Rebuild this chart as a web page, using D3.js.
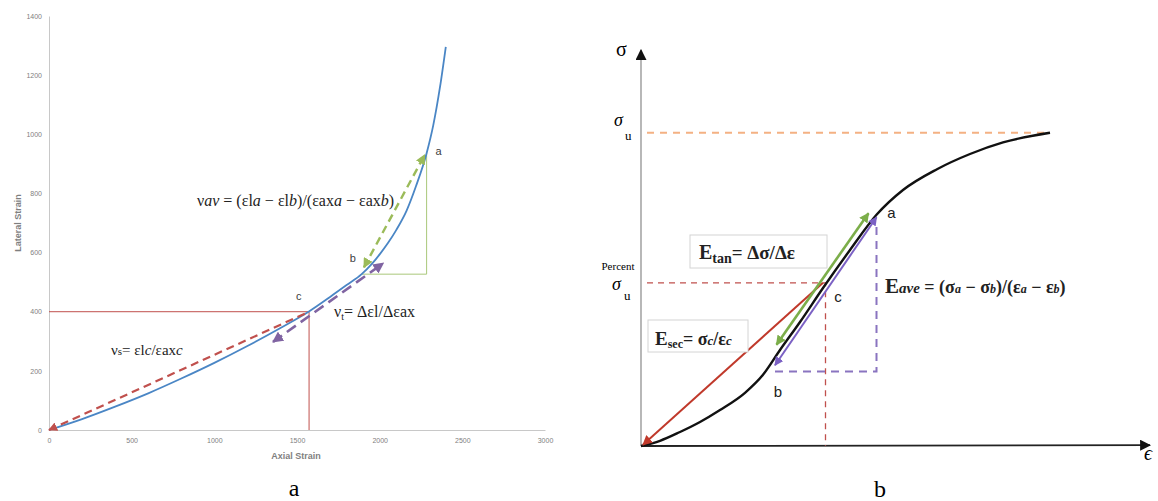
<!DOCTYPE html>
<html>
<head>
<meta charset="utf-8">
<script src="https://cdn.jsdelivr.net/npm/d3@7"></script>
<style>
  body { margin: 0; background: #fff; }
  text { font-family: "Liberation Sans", Arial, sans-serif; }
  .serif { font-family: "Liberation Serif", "Times New Roman", serif; }
</style>
</head>
<body>
<script>
// ---- panel a : lateral vs axial strain ----
var axialStrain   = [0, 200, 400, 600, 800, 1000, 1200, 1400, 1570, 1700, 1800, 1891, 1950, 2000, 2050, 2100, 2163, 2220, 2284, 2324, 2365, 2400];
var lateralStrain = [0, 37, 79, 124, 174, 227, 284, 345, 400, 450, 490, 527, 560, 594, 632, 676, 742, 825, 936, 1030, 1160, 1296];
var xTicksA = [0, 500, 1000, 1500, 2000, 2500, 3000];
var yTicksA = [0, 200, 400, 600, 800, 1000, 1200, 1400];
var pointA = [2284, 936], pointB = [1891, 527], pointC = [1573, 400];
var greenChord = [[1905, 550], [2272, 930]];    // dashed chord b -> a
var purpleTangent = [[1355, 298], [2022, 564]]; // dashed tangent near c

// ---- panel b : schematic stress-strain ----
var epsCurve = [0, 3.8, 7.8, 11.8, 15.8, 20.8, 24.4, 27.8, 31.8, 36.4, 41.8, 47.1, 52.4, 59.2, 65.8, 72.4, 81.8];
var sigCurve = [0, 1.3, 3.5, 6, 9, 13.3, 17.8, 24, 31, 39.5, 49, 57.8, 64, 69.2, 73, 75.9, 78.3];
var sigmaU = 78.3;
var ptA = [47.1, 58.2], ptB = [24.4, 17.8], ptC = [36.4, 40.8];
var tanLine = [[27.1, 25.3], [45.5, 58.2]];
var aveLine = [[26.8, 20.2], [47.1, 58.2]];
var aveBase = 18.6;

var svg = d3.select("body").append("svg").attr("width", 1158).attr("height", 501);

// arrow markers
var defs = svg.append("defs");
function marker(id, color, size) {
  defs.append("marker").attr("id", id)
    .attr("viewBox", "0 0 10 10").attr("refX", 9).attr("refY", 5)
    .attr("markerWidth", size).attr("markerHeight", size)
    .attr("markerUnits", "userSpaceOnUse")
    .attr("orient", "auto-start-reverse")
    .append("path").attr("d", "M0,0L10,5L0,10z").attr("fill", color);
}
marker("arRed", "#c0504d", 9);
marker("arGreen", "#9bbb59", 10);
marker("arPurple", "#8064a2", 11);
marker("arRedB", "#c0392b", 10);
marker("arGreenB", "#7cae4a", 10);
marker("arPurpleB", "#7b61c4", 9);
marker("arBlack", "#111", 11);

// ================= panel a =================
var x = d3.scaleLinear().domain([0, 3000]).range([49, 545]);
var y = d3.scaleLinear().domain([0, 1400]).range([430, 16]);

var gA = svg.append("g");
var xAxis = gA.append("g").attr("transform", "translate(0,430)")
  .call(d3.axisBottom(x).tickValues(xTicksA).tickFormat(d3.format("d")).tickSize(0).tickSizeOuter(0).tickPadding(8));
var yAxis = gA.append("g").attr("transform", "translate(49,0)")
  .call(d3.axisLeft(y).tickValues(yTicksA).tickFormat(d3.format("d")).tickSize(0).tickSizeOuter(0).tickPadding(7));
[xAxis, yAxis].forEach(function (ax) {
  ax.select(".domain").attr("stroke", "#c8c8c8");
  ax.selectAll("text").attr("fill", "#808080").style("font-size", "7px")
    .style("font-family", "Liberation Sans, sans-serif");
});
gA.append("text").attr("x", 296).attr("y", 459).attr("text-anchor", "middle")
  .style("font-size", "9px").style("font-weight", "bold").attr("fill", "#7f7f7f").text("Axial Strain");
gA.append("text").attr("transform", "translate(21,223) rotate(-90)").attr("text-anchor", "middle")
  .style("font-size", "9px").style("font-weight", "bold").attr("fill", "#7f7f7f").text("Lateral Strain");

// red guide lines at c
gA.append("path").attr("fill", "none").attr("stroke", "#c0504d").attr("stroke-width", 1)
  .attr("d", d3.line()([[x(0), y(pointC[1])], [x(pointC[0]), y(pointC[1])], [x(pointC[0]), y(0)]]));
// green guide lines b -> a
gA.append("path").attr("fill", "none").attr("stroke", "#a9c77a").attr("stroke-width", 1)
  .attr("d", d3.line()([[x(pointB[0]), y(pointB[1])], [x(pointA[0]), y(pointB[1])], [x(pointA[0]), y(pointA[1])]]));

// curve
var lineA = d3.line().x(function (d, i) { return x(axialStrain[i]); })
  .y(function (d) { return y(d); }).curve(d3.curveMonotoneX);
gA.append("path").datum(lateralStrain).attr("fill", "none")
  .attr("stroke", "#4a86c5").attr("stroke-width", 1.8).attr("d", lineA);

// secant (red dashed)
gA.append("path").attr("fill", "none").attr("stroke", "#c0504d").attr("stroke-width", 2.2)
  .attr("stroke-dasharray", "8,5").attr("marker-start", "url(#arRed)")
  .attr("d", d3.line()([[x(0), y(0)], [x(pointC[0]), y(pointC[1])]]));
// green dashed chord
gA.append("path").attr("fill", "none").attr("stroke", "#9bbb59").attr("stroke-width", 2.4)
  .attr("stroke-dasharray", "8,5").attr("marker-start", "url(#arGreen)").attr("marker-end", "url(#arGreen)")
  .attr("d", d3.line()(greenChord.map(function (p) { return [x(p[0]), y(p[1])]; })));
// purple dashed tangent
gA.append("path").attr("fill", "none").attr("stroke", "#8064a2").attr("stroke-width", 2.6)
  .attr("stroke-dasharray", "11,6").attr("marker-start", "url(#arPurple)").attr("marker-end", "url(#arPurple)")
  .attr("d", d3.line()(purpleTangent.map(function (p) { return [x(p[0]), y(p[1])]; })));

// point labels
[["a", pointA, 9, -2], ["b", pointB, -12, -16], ["c", pointC, -13, -16]].forEach(function (l) {
  gA.append("text").attr("x", x(l[1][0]) + l[2]).attr("y", y(l[1][1]) + l[3] + 4)
    .style("font-size", "11px").attr("fill", "#404040").text(l[0]);
});

// formulas
function formula(g, xx, yy, size, parts, weight) {
  var t = g.append("text").attr("class", "serif").attr("x", xx).attr("y", yy)
    .style("font-size", size + "px").attr("fill", "#222");
  if (weight) t.style("font-weight", weight);
  parts.forEach(function (p) {
    var s = t.append("tspan").text(p[0]);
    if (p[1]) s.style("font-style", "italic");
    if (p[2]) s.style("font-size", p[2] + "px");
    if (p[3]) s.attr("dy", p[3]);
  });
  return t;
}
formula(gA, 197, 206, 16, [["ν"], ["av", 1], [" = (εl"], ["a", 1], [" − εl"], ["b", 1], [")/(εax"], ["a", 1], [" − εax"], ["b", 1], [")"]]);
formula(gA, 334, 317, 16, [["ν"], ["t", 0, 10, 3], ["= Δεl/Δεax", 0, 0, -3]]);
formula(gA, 111, 355, 15, [["ν"], ["s", 0, 11], ["= εl"], ["c", 1], ["/εax"], ["c", 1]]);

// caption
svg.append("text").attr("class", "serif").attr("x", 294).attr("y", 496).attr("text-anchor", "middle")
  .style("font-size", "24px").text("a");

// ================= panel b =================
var xb = d3.scaleLinear().domain([0, 100]).range([641, 1141]);
var yb = d3.scaleLinear().domain([0, 100]).range([446, 46]);
var gB = svg.append("g");
function P(p) { return [xb(p[0]), yb(p[1])]; }

// axes
gB.append("path").attr("stroke", "#888").attr("stroke-width", 1.2).attr("fill", "none")
  .attr("marker-end", "url(#arBlack)").attr("d", d3.line()([P([0, 0]), P([0, 99])]));
gB.append("path").attr("stroke", "#222").attr("stroke-width", 1.8).attr("fill", "none")
  .attr("marker-end", "url(#arBlack)").attr("d", d3.line()([P([0, 0]), P([101.8, 0.2])]));

// sigma_u dashed
gB.append("path").attr("stroke", "#f4b183").attr("stroke-width", 2).attr("stroke-dasharray", "7,6")
  .attr("fill", "none").attr("d", d3.line()([P([1.2, sigmaU]), P([epsCurve[epsCurve.length - 1], sigmaU])]));
// percent sigma_u dashed
gB.append("path").attr("stroke", "#c0504d").attr("stroke-width", 1.3).attr("stroke-dasharray", "6,5")
  .attr("fill", "none").attr("d", d3.line()([P([1.2, ptC[1]]), P([ptC[0] + 0.5, ptC[1]]), P([ptC[0] + 0.5, 0])]));
// average modulus dashed box
gB.append("path").attr("stroke", "#8a74c0").attr("stroke-width", 2).attr("stroke-dasharray", "8,6")
  .attr("fill", "none").attr("d", d3.line()([P([aveLine[0][0], aveBase]), P([ptA[0], aveBase]), P([ptA[0], ptA[1] - 2])]));

// curve
var lineB = d3.line().x(function (d, i) { return xb(epsCurve[i]); })
  .y(function (d) { return yb(d); }).curve(d3.curveMonotoneX);
gB.append("path").datum(sigCurve).attr("fill", "none").attr("stroke", "#111")
  .attr("stroke-width", 2.4).attr("d", lineB);

// secant arrow
gB.append("path").attr("stroke", "#c0392b").attr("stroke-width", 2).attr("fill", "none")
  .attr("marker-end", "url(#arRedB)").attr("d", d3.line()([P(ptC), P([0.4, 0.3])]));
// tangent arrow
gB.append("path").attr("stroke", "#7cae4a").attr("stroke-width", 2.6).attr("fill", "none")
  .attr("marker-start", "url(#arGreenB)").attr("marker-end", "url(#arGreenB)")
  .attr("d", d3.line()(tanLine.map(P)));
// average arrow
gB.append("path").attr("stroke", "#7b61c4").attr("stroke-width", 2).attr("fill", "none")
  .attr("marker-start", "url(#arPurpleB)").attr("marker-end", "url(#arPurpleB)")
  .attr("d", d3.line()([P([aveLine[0][0], aveLine[0][1]]), P([aveLine[1][0], aveLine[1][1] - 1])]));

// axis labels
gB.append("text").attr("class", "serif").attr("x", 616).attr("y", 56).style("font-size", "20px").text("σ");
gB.append("text").attr("class", "serif").attr("x", 1144).attr("y", 460).style("font-size", "20px")
  .style("font-style", "italic").text("ϵ");
gB.append("text").attr("class", "serif").attr("x", 614).attr("y", 126).style("font-size", "18px")
  .style("font-style", "italic").text("σ");
gB.append("text").attr("class", "serif").attr("x", 625).attr("y", 140).style("font-size", "13px").text("u");
gB.append("text").attr("class", "serif").attr("x", 618).attr("y", 270).attr("text-anchor", "middle")
  .style("font-size", "11px").text("Percent");
gB.append("text").attr("class", "serif").attr("x", 612).attr("y", 290).style("font-size", "18px")
  .style("font-style", "italic").text("σ");
gB.append("text").attr("class", "serif").attr("x", 624).attr("y", 300).style("font-size", "13px").text("u");

// point labels
[["a", ptA, 15, 5], ["b", ptB, 15, 22], ["c", ptC, 15, 19]].forEach(function (l) {
  gB.append("text").attr("x", xb(l[1][0]) + l[2]).attr("y", yb(l[1][1]) + l[3])
    .attr("text-anchor", "middle").style("font-size", "15px").attr("fill", "#222").text(l[0]);
});

// boxed formulas
gB.append("rect").attr("x", 690).attr("y", 235).attr("width", 137).attr("height", 33)
  .attr("fill", "#fff").attr("stroke", "#d4d4d4");
formula(gB, 699, 259, 20, [["E"], ["tan", 0, 14, 4], ["= Δσ/Δε", 0, 19, -4]], "bold");
gB.append("rect").attr("x", 648).attr("y", 320).attr("width", 100).attr("height", 32)
  .attr("fill", "#fff").attr("stroke", "#d4d4d4");
formula(gB, 655, 345, 19, [["E"], ["sec", 0, 12, 3], ["= σ", 0, 18, -3], ["c", 1, 13], ["/ε", 0, 18], ["c", 1, 13]], "bold");
formula(gB, 885, 293, 21, [["E"], ["ave", 1, 15], [" = (σ", 0, 18], ["a", 1, 12], [" − σ", 0, 18], ["b", 1, 12],
  [")/(ε", 0, 18], ["a", 1, 12], [" − ε", 0, 18], ["b", 1, 12], [")", 0, 18]], "bold");

svg.append("text").attr("class", "serif").attr("x", 880).attr("y", 497).attr("text-anchor", "middle")
  .style("font-size", "24px").text("b");
</script>
</body>
</html>
